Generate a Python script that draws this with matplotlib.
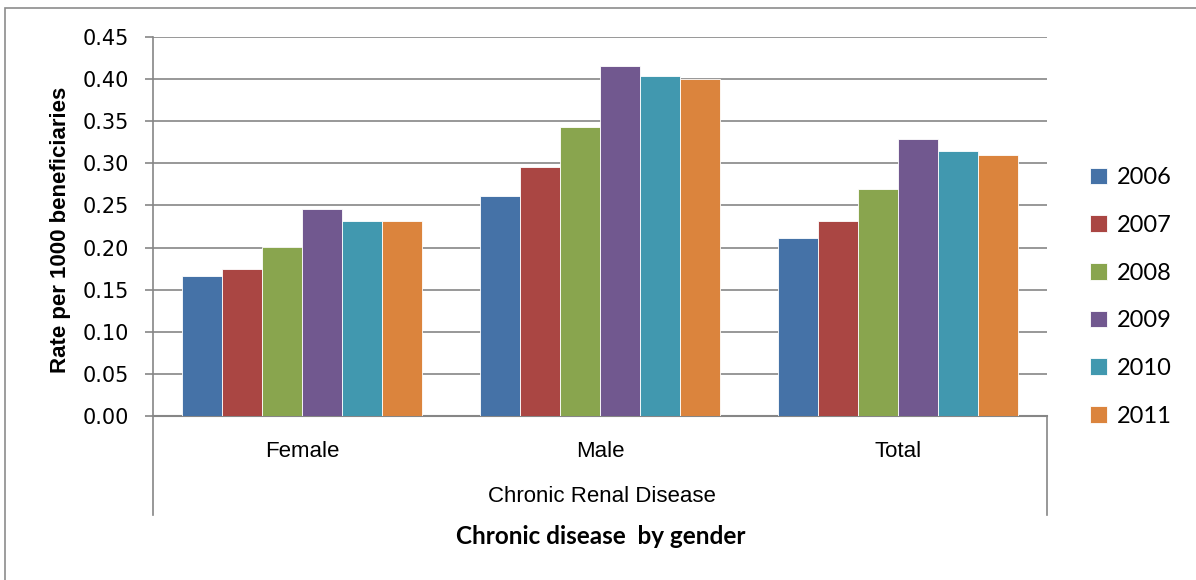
import matplotlib.pyplot as plt
import numpy as np
from matplotlib import font_manager
from matplotlib.patches import Rectangle
from matplotlib.lines import Line2D

# rates per 1000 beneficiaries, chronic renal disease
groups = ["Female", "Male", "Total"]
years = ["2006", "2007", "2008", "2009", "2010", "2011"]
rates = {
    "2006": [0.166, 0.261, 0.211],
    "2007": [0.175, 0.296, 0.232],
    "2008": [0.201, 0.343, 0.270],
    "2009": [0.246, 0.416, 0.329],
    "2010": [0.232, 0.404, 0.315],
    "2011": [0.232, 0.400, 0.310],
}
colors = ["#4572A7", "#AA4643", "#89A54E", "#71588F", "#4198AF", "#DB843D"]

# narrow bold face for the y label if the system has one
try:
    font_manager.findfont(font_manager.FontProperties(family="Liberation Sans Narrow"),
                          fallback_to_default=False)
    narrow = "Liberation Sans Narrow"
except ValueError:
    narrow = "Liberation Sans"

fig = plt.figure(figsize=(11.96, 5.80), dpi=100)
ax = fig.add_axes([153/1196, 1 - 416/580, (1047 - 153)/1196, (416 - 37)/580])

# outer chart frame
fig.patches.append(Rectangle((5/1196, -0.1), 1.2, 1 - 8/580 + 0.1, transform=fig.transFigure,
                             fill=False, edgecolor="#8c8c8c", lw=1.2))

x = np.arange(len(groups))
w = 0.805 / len(years)
for i, yr in enumerate(years):
    ax.bar(x - 0.4025 + w * (i + 0.5), rates[yr], width=w, color=colors[i],
           edgecolor="white", linewidth=0.6, label=yr, zorder=3)

ax.set_xlim(-0.5, 2.5)
ax.set_ylim(0, 0.45)
ticks = np.arange(0, 0.451, 0.05)
ax.set_yticks(ticks)
ax.set_yticklabels([f"{v:.2f}" for v in ticks], fontsize=15, family="DejaVu Sans")
ax.yaxis.grid(True, color="#868686", lw=1.2, zorder=0)
ax.tick_params(axis="y", length=6, width=1.2, color="#868686", pad=11)
ax.set_xticks(x)
ax.set_xticklabels(groups, fontsize=16, family="Liberation Sans")
ax.tick_params(axis="x", length=0, pad=18)
for s in ["top", "right"]:
    ax.spines[s].set_visible(False)
ax.spines["left"].set_color("#868686")
ax.spines["bottom"].set_color("#868686")
ax.spines["left"].set_linewidth(1.2)
ax.spines["bottom"].set_linewidth(1.5)

fig.text(61/1196, 1 - 230/580, "Rate per 1000 beneficiaries", rotation=90,
         ha="center", va="center", fontsize=16 if narrow == "Liberation Sans" else 17.5,
         fontweight="bold", family=narrow)

# second category level below the axis
for xp in [153, 1047]:
    fig.add_artist(Line2D([xp/1196, xp/1196], [1 - 416/580, 1 - 515/580],
                          color="#868686", lw=1.2))
fig.text(602/1196, 1 - 497/580, "Chronic Renal Disease", ha="center", va="center",
         fontsize=16, family="Liberation Sans")
fig.text(601/1196, 1 - 537/580, "Chronic disease  by gender", ha="center", va="center",
         fontsize=17.5, fontweight="bold", family="Lato")

ax.legend(loc="upper left", bbox_to_anchor=(1069/1196, 1 - 146/580),
          bbox_transform=fig.transFigure, frameon=False,
          handlelength=0.72, handleheight=0.72, labelspacing=1.13,
          handletextpad=0.4, prop={"family": "Lato", "size": 17})

fig.savefig("out.png", dpi=100)
